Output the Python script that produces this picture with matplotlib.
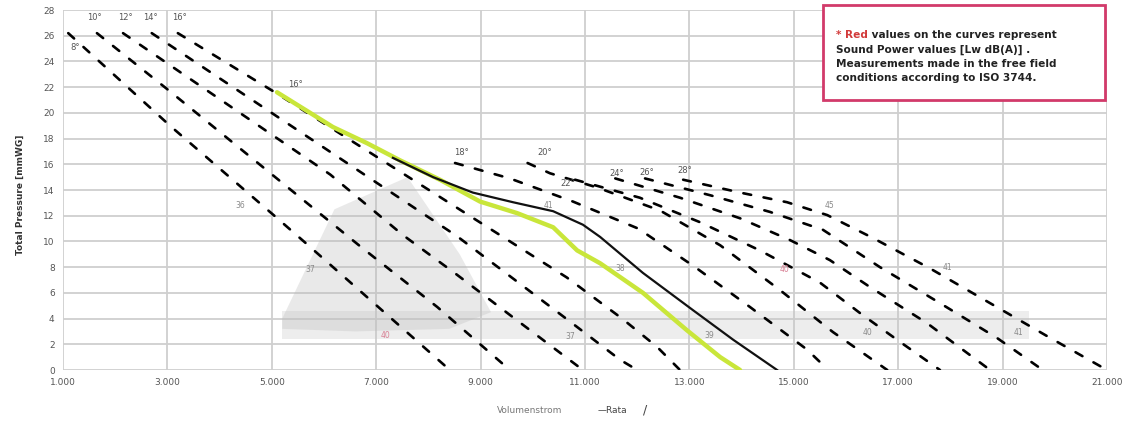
import matplotlib
matplotlib.use("Agg")
import matplotlib.pyplot as plt
from matplotlib.patches import FancyBboxPatch

plt.rcParams['font.family'] = ['DejaVu Sans']

# ---------------- data ----------------
x_ticks = [1000, 3000, 5000, 7000, 9000, 11000, 13000, 15000, 17000, 19000, 21000]
x_tick_labels = ["1.000", "3.000", "5.000", "7.000", "9.000", "11.000", "13.000",
                 "15.000", "17.000", "19.000", "21.000"]
y_ticks = list(range(0, 29, 2))

# dashed fan curves (blade angles)
c08_x = [1100, 3050, 5020, 5670, 8410]
c08_y = [26.2, 19.0, 12.1, 9.8, 0.0]
c10_x = [1650, 3010, 5670, 6730, 8170, 9560]
c10_y = [26.2, 21.8, 13.0, 9.5, 4.9, 0.0]
c12_x = [2150, 6120, 7510, 8550, 9620, 10960]
c12_y = [26.2, 15.2, 10.5, 7.4, 4.1, 0.0]
c14_x = [2700, 4700, 8550, 10670, 11670, 12000]
c14_y = [26.2, 20.8, 10.4, 3.9, 0.8, 0.0]
c16_x = [3200, 5100, 7700, 10650, 11710, 12380, 12820]
c16_y = [26.2, 21.5, 14.8, 7.2, 4.0, 1.8, 0.0]
c18_x = [8510, 9560, 10770, 12020, 13110, 14160, 15250, 15660]
c18_y = [16.1, 14.9, 13.1, 11.0, 8.0, 4.9, 1.6, 0.0]
c20_x = [9900, 10330, 11230, 12440, 13590, 14740, 15750, 16790]
c20_y = [16.1, 15.3, 14.2, 12.4, 9.7, 6.2, 2.95, 0.0]
c22_x = [10810, 12050, 13200, 14350, 15500, 16310, 17030, 17800]
c22_y = [14.8, 13.4, 11.5, 9.3, 6.8, 4.3, 2.2, 0.0]
c24_x = [11580, 12820, 13970, 14930, 15690, 16460, 17550, 18760]
c24_y = [14.9, 13.4, 11.8, 10.1, 8.55, 6.45, 3.65, 0.0]
c26_x = [12150, 13390, 14540, 15560, 16650, 17760, 18890, 19770]
c26_y = [14.9, 13.6, 12.3, 10.9, 8.0, 5.3, 2.5, 0.0]
c28_x = [12880, 13970, 14870, 15640, 16500, 17610, 18760, 19910, 21000]
c28_y = [14.8, 13.8, 13.05, 12.05, 10.3, 7.9, 5.2, 2.5, 0.0]

dashed_curves = [(c08_x, c08_y), (c10_x, c10_y), (c12_x, c12_y), (c14_x, c14_y),
                 (c16_x, c16_y), (c18_x, c18_y), (c20_x, c20_y), (c22_x, c22_y),
                 (c24_x, c24_y), (c26_x, c26_y), (c28_x, c28_y)]

# yellow system curve
yel_x = [5100, 6170, 6820, 7460, 8220, 8990, 9700, 10390, 10850, 11290, 12110, 12950, 13590, 13970]
yel_y = [21.6, 18.9, 17.65, 16.3, 14.8, 13.1, 12.2, 11.1, 9.3, 8.3, 6.0, 3.1, 1.0, 0.0]
# black "Rata" curve
rata_x = [7320, 8090, 8850, 9620, 10390, 10960, 11290, 12110, 13070, 13840, 14680]
rata_y = [16.5, 15.0, 13.8, 13.05, 12.35, 11.3, 10.35, 7.55, 4.65, 2.35, 0.0]

# blade angle labels
ang_labels = ["8°", "10°", "12°", "14°", "16°", "16°", "18°", "20°", "22°", "24°", "26°", "28°"]
ang_x = [1230, 1610, 2190, 2670, 3240, 5450, 8640, 10230, 10670, 11610, 12190, 12920]
ang_y = [25.1, 27.4, 27.4, 27.4, 27.4, 22.2, 16.95, 16.95, 14.5, 15.3, 15.4, 15.55]

# sound power values on the curves
lw_labels = ["36", "37", "40", "41", "38", "37", "39", "40", "40", "41", "45", "41"]
lw_x = [4390, 5730, 7170, 10290, 11670, 10710, 13390, 14830, 16420, 17950, 15690, 19300]
lw_y = [12.8, 7.8, 2.7, 12.8, 7.9, 2.6, 2.7, 7.8, 2.9, 8.0, 12.8, 2.95]
lw_red = [False, False, True, False, False, False, False, True, False, False, False, False]

# faded background smear
shade_x = [5200, 6200, 7600, 8600, 9200, 8400, 6600, 5200]
shade_y = [4.0, 12.5, 15.0, 9.0, 4.5, 3.2, 3.0, 3.2]
band_x = [5200, 19500]
band_lo = [2.4, 2.4]
band_hi = [4.6, 4.6]

note_lines = ["Sound Power values [Lw dB(A)] .",
              "Measurements made in the free field",
              "conditions according to ISO 3744."]

# ---------------- figure ----------------
W, H = 1131, 423
fig = plt.figure(figsize=(W / 100, H / 100), dpi=100)
ax = fig.add_axes([63 / W, 1 - 370 / H, (1107 - 63) / W, (370 - 10) / H])

ax.set_xlim(1000, 21000)
ax.set_ylim(0, 28)
ax.set_xticks(x_ticks)
ax.set_xticklabels(x_tick_labels)
ax.set_yticks(y_ticks)
ax.tick_params(axis='both', length=0, labelsize=6.5, colors='#555555', pad=6)
ax.grid(True, color='#cfcfcf', linewidth=1.3)
ax.set_axisbelow(True)
for s in ax.spines.values():
    s.set_visible(False)

# faded background
ax.fill(shade_x, shade_y, color='#b8b8b8', alpha=0.3, lw=0)
ax.fill_between(band_x, band_lo, band_hi, color='#c4c4c4', alpha=0.3, lw=0)

for cx, cy in dashed_curves:
    ax.plot(cx, cy, color='black', lw=1.9, linestyle=(0, (3.0, 4.8)),
            dash_capstyle='round', zorder=3)

ax.plot(yel_x, yel_y, color='#c9e63a', lw=3.2, solid_capstyle='round', zorder=4)
ax.plot(rata_x, rata_y, color='#111111', lw=1.6, zorder=5)

for t, x, y in zip(ang_labels, ang_x, ang_y):
    ax.text(x, y, t, fontsize=6, color='#555555', ha='center', va='center', zorder=6)
for t, x, y, r in zip(lw_labels, lw_x, lw_y, lw_red):
    ax.text(x, y, t, fontsize=5.5, color='#d87f93' if r else '#8a8a8a',
            ha='center', va='center', zorder=6)

# axis labels / legend
fig.text(20 / W, 1 - 195 / H, "Total Pressure [mmWG]", rotation=90, fontsize=6.5,
         color='#333333', ha='center', va='center', fontweight='bold')
fig.text(530 / W, 1 - 410 / H, "Volumenstrom", fontsize=6.5, color='#777777',
         ha='center', va='center')
fig.text(612 / W, 1 - 410 / H, "\u2014Rata", fontsize=6.5, color='#444444',
         ha='center', va='center')
fig.text(645 / W, 1 - 410 / H, "/", fontsize=9, color='#444444',
         ha='center', va='center')

# note box
box = FancyBboxPatch((823 / W, 1 - 100 / H), (1105 - 823) / W, (100 - 5) / H,
                     boxstyle='square,pad=0', transform=fig.transFigure,
                     facecolor='white', edgecolor='#d23a6a', lw=2.0, zorder=10)
fig.patches.append(box)
note_fs = 7.6
ys = [38, 53, 67, 81]
t_star = fig.text(836 / W, 1 - ys[0] / H, "* ", fontsize=note_fs, color='#d23a3a',
                  va='baseline', fontweight='bold', zorder=11)
a_red = fig.add_artist(plt.Annotation("Red", xy=(1, 0), xycoords=t_star,
                                      va='bottom', ha='left', fontsize=note_fs,
                                      color='#d23a3a', fontweight='bold', zorder=11))
fig.add_artist(plt.Annotation(" values on the curves represent", xy=(1, 0),
                              xycoords=a_red, va='bottom', ha='left',
                              fontsize=note_fs, color='#222222',
                              fontweight='bold', zorder=11))
for t, y in zip(note_lines, ys[1:]):
    fig.text(836 / W, 1 - y / H, t, fontsize=note_fs, color='#222222', va='baseline',
             fontweight='bold', zorder=11)

fig.savefig("out.png", dpi=100)
